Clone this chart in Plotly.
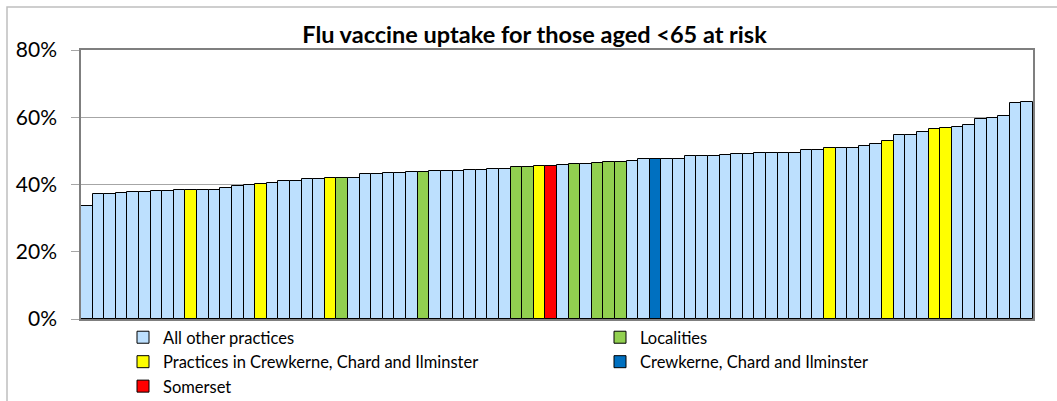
import plotly.graph_objects as go

# Uptake per bar, sorted ascending, with the group each bar belongs to
uptake = [
    0.336, 0.372, 0.372, 0.375, 0.379, 0.379, 0.382, 0.382, 0.383, 0.384,
    0.384, 0.384, 0.389, 0.397, 0.399, 0.401, 0.405, 0.409, 0.409, 0.416,
    0.416, 0.418, 0.418, 0.418, 0.431, 0.431, 0.434, 0.434, 0.436, 0.436,
    0.441, 0.441, 0.441, 0.443, 0.443, 0.445, 0.445, 0.452, 0.452, 0.455,
    0.456, 0.459, 0.461, 0.462, 0.463, 0.468, 0.468, 0.470, 0.475, 0.475,
    0.475, 0.477, 0.484, 0.484, 0.486, 0.488, 0.490, 0.492, 0.494, 0.494,
    0.494, 0.495, 0.502, 0.502, 0.508, 0.510, 0.510, 0.515, 0.521, 0.528,
    0.546, 0.546, 0.555, 0.566, 0.568, 0.570, 0.578, 0.594, 0.597, 0.605,
    0.643, 0.646,
]

groups = ["other"] * len(uptake)
for i in [9, 15, 21, 39, 64, 69, 73, 74]:
    groups[i] = "practice"
for i in [22, 29, 37, 38, 42, 44, 45, 46]:
    groups[i] = "locality"
groups[40] = "somerset"
groups[49] = "area"

series_names = {
    "other": "All other practices",
    "locality": "Localities",
    "practice": "Practices in Crewkerne, Chard and Ilminster",
    "area": "Crewkerne, Chard and Ilminster",
    "somerset": "Somerset",
}
series_colors = {
    "other": "#BDE0FE",
    "locality": "#92D050",
    "practice": "#FFFF00",
    "area": "#0070C0",
    "somerset": "#FF0000",
}
# two legend columns
legend_column = {
    "other": "legend", "practice": "legend", "somerset": "legend",
    "locality": "legend2", "area": "legend2",
}
legend_order = ["other", "practice", "somerset", "locality", "area"]

fig = go.Figure()
for key in legend_order:
    idx = [i for i, g in enumerate(groups) if g == key]
    fig.add_trace(go.Bar(
        x=idx,
        y=[uptake[i] for i in idx],
        name=series_names[key],
        legend=legend_column[key],
        marker=dict(color=series_colors[key], line=dict(color="#000000", width=1)),
        hoverinfo="y",
    ))

# Pixel geometry of the plot area
W, H = 1057, 401
L, R, T, B = 81, 24, 50, 82
pw, ph = W - L - R, H - T - B

def px_x(p):
    return (p - L) / pw

def px_y(p):
    return (H - B - p) / ph

legend_style = dict(
    orientation="v",
    xanchor="left",
    yanchor="top",
    font=dict(size=16.5, color="#000000"),
    traceorder="normal",
    bgcolor="rgba(0,0,0,0)",
    borderwidth=0,
)

fig.update_layout(
    width=W, height=H,
    margin=dict(l=L, r=R, t=T, b=B, autoexpand=False),
    paper_bgcolor="white",
    plot_bgcolor="white",
    barmode="overlay",
    bargap=0,
    font=dict(family="Lato, sans-serif", color="#000000"),
    title=dict(
        text="<b>Flu vaccine uptake for those aged &lt;65 at risk</b>",
        x=534.5 / W, xanchor="center", xref="container",
        y=1 - 35 / H, yanchor="middle",
        font=dict(size=23.5, color="#000000"),
    ),
    xaxis=dict(
        range=[-0.5, len(uptake) - 0.5],
        showticklabels=False, ticks="",
        showgrid=False, zeroline=False,
        showline=True, linecolor="#7F7F7F", linewidth=1.5, mirror=True,
        fixedrange=True,
    ),
    yaxis=dict(
        range=[0, 0.8], dtick=0.2, tickformat=".0%",
        showgrid=True, gridcolor="#A6A6A6", gridwidth=1,
        zeroline=False,
        showline=True, linecolor="#7F7F7F", linewidth=1.5, mirror=True,
        ticks="outside", ticklen=8, tickcolor="#A6A6A6",
        ticklabelstandoff=10,
        tickfont=dict(size=21, color="#000000"),
        fixedrange=True,
    ),
    legend=dict(legend_style, x=px_x(123), y=px_y(320)),
    legend2=dict(legend_style, x=px_x(600), y=px_y(320)),
    shapes=[
        dict(
            type="rect", xref="paper", yref="paper", layer="below",
            x0=px_x(7), x1=px_x(1070), y0=px_y(420), y1=px_y(7),
            line=dict(color="#BFBFBF", width=1.5), fillcolor="rgba(0,0,0,0)",
        ),
    ],
)

fig.write_html("out.html")
